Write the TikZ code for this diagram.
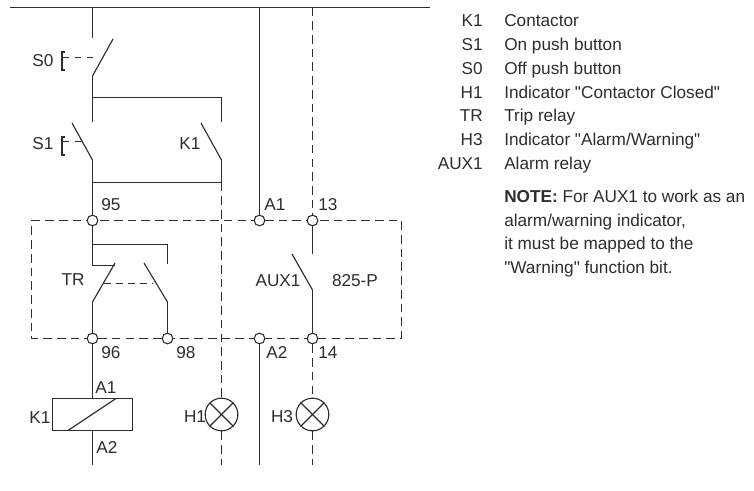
\documentclass[tikz,border=0pt]{standalone}
\usepackage{fontspec}
\setmainfont{Liberation Sans}
\definecolor{ink}{RGB}{45,45,45}
\tikzset{
	wire/.style={draw=ink,line width=1.05pt},
	blade/.style={draw=ink,line width=0.85pt},
	linkage/.style={draw=ink,line width=0.85pt,dash pattern=on 5pt off 4pt},
	dashwire/.style={draw=ink,line width=0.95pt,dash pattern=on 6.5pt off 3.8pt},
	terminal/.style={circle,draw=ink,fill=white,line width=0.8pt,minimum size=8pt,inner sep=0pt},
	lamp/.style={circle,draw=ink,line width=0.85pt,minimum size=24.5pt,inner sep=0pt},
	lbl/.style={text=ink,font=\fontsize{12.9pt}{15pt}\selectfont,inner sep=0pt},
}
\begin{document}
\begin{tikzpicture}[x=0.75pt,y=0.75pt,yscale=-1,xscale=1]
	\useasboundingbox (0,0) rectangle (754,491);

	%box of the relay
	\draw [dashwire] (31.5,220.5) -- (401.5,220.5) -- (401.5,338.5) -- (31.5,338.5) -- cycle;

	%terminals and lamps
	\node [terminal] (t95) at (92.5,220.5) {};
	\node [terminal] (ta1) at (259.5,220.5) {};
	\node [terminal] (t13) at (312.5,220.5) {};
	\node [terminal] (t96) at (92.5,338.5) {};
	\node [terminal] (t98) at (167.5,338.5) {};
	\node [terminal] (ta2) at (259.5,338.5) {};
	\node [terminal] (t14) at (312.5,338.5) {};
	\node [lamp] (lampone) at (221.5,414.5) {};
	\node [lamp] (lamptwo) at (312.5,414.5) {};
	\node [draw=ink,line width=1.05pt,minimum width=60pt,minimum height=24pt,inner sep=0pt] (coil) at (92.5,414.5) {};
	\draw [blade] (lampone.north west) -- (lampone.south east);
	\draw [blade] (lampone.north east) -- (lampone.south west);
	\draw [blade] (lamptwo.north west) -- (lamptwo.south east);
	\draw [blade] (lamptwo.north east) -- (lamptwo.south west);
	\draw [blade] (68,430.5) -- (116,398.5);

	%supply
	\draw [wire] (10,7.5) -- (430,7.5);
	\draw [wire] (92.5,7.5) -- (92.5,38);
	\draw [wire] (259.5,7.5) -- (ta1);
	\draw [dashwire] (312.5,7.5) -- (t13);
	\draw [wire] (ta2) -- (259.5,465);
	\draw [dashwire] (221.5,182.5) -- (lampone);
	\draw [dashwire] (lampone) -- (221.5,465);
	\draw [dashwire] (t14) -- (lamptwo);
	\draw [dashwire] (lamptwo) -- (312.5,465);

	%S0
	\draw [blade] (113,39) -- (92.5,76);
	\draw [wire] (92.5,76) -- (92.5,122);
	\draw [wire] (92.5,97.5) -- (221.5,97.5) -- (221.5,122);
	\draw [blade] (65,52) -- (62,52) -- (62,70) -- (65,70);
	\draw [linkage] (62.5,57.5) -- (98,57.5);

	%S1 and K1
	\draw [blade] (72,123) -- (92.5,160);
	\draw [blade] (201,123) -- (221.5,160);
	\draw [blade] (65,137) -- (62,137) -- (62,155) -- (65,155);
	\draw [linkage] (62.5,141.5) -- (83,141.5);
	\draw [wire] (92.5,160) -- (92.5,182.5) -- (221.5,182.5);
	\draw [wire] (221.5,160) -- (221.5,182.5);
	\draw [wire] (92.5,182.5) -- (t95);

	%TR
	\draw [wire] (t95) -- (92.5,265.5) -- (115,265.5);
	\draw [wire] (92.5,244.5) -- (167.5,244.5) -- (167.5,264);
	\draw [blade] (115,263) -- (92.5,302);
	\draw [blade] (144,263) -- (167.5,302);
	\draw [linkage] (104,283.5) -- (153,283.5);
	\draw [wire] (92.5,302) -- (t96);
	\draw [wire] (167.5,302) -- (t98);
	\draw [wire] (t96) -- (coil);
	\draw [wire] (coil) -- (92.5,465);

	%AUX1
	\draw [wire] (t13) -- (312.5,254);
	\draw [blade] (292,254) -- (312.5,290);
	\draw [wire] (312.5,290) -- (t14);

	\draw (43,60.5) node [lbl] (ls0) {S0};
	\draw (43,143.5) node [lbl] (ls1) {S1};
	\draw (190,143.5) node [lbl] (lk1) {K1};
	\draw (111,204.5) node [lbl] (l95) {95};
	\draw (275,204.5) node [lbl] (la1) {A1};
	\draw (328,204.5) node [lbl] (l13) {13};
	\draw (73,279.5) node [lbl] (ltr) {TR};
	\draw (278,280.5) node [lbl] (laux) {AUX1};
	\draw (355,280.5) node [lbl] (lmodel) {825-P};
	\draw (111,352.5) node [lbl] (l96) {96};
	\draw (186,352.5) node [lbl] (l98) {98};
	\draw (277,352.5) node [lbl] (la2) {A2};
	\draw (328,352.5) node [lbl] (l14) {14};
	\draw (106,387.5) node [lbl] (lca1) {A1};
	\draw (107,447.5) node [lbl] (lca2) {A2};
	\draw (40,417.5) node [lbl] (lck1) {K1};
	\draw (195,416.5) node [lbl] (lh1) {H1};
	\draw (282,416.5) node [lbl] (lh3) {H3};

	%legend
	\draw (483,26.5) node [lbl,anchor=base east] (kk1) {K1};
	\draw (483,50.5) node [lbl,anchor=base east] (ks1) {S1};
	\draw (483,74.5) node [lbl,anchor=base east] (ks0) {S0};
	\draw (483,98.5) node [lbl,anchor=base east] (kh1) {H1};
	\draw (483,122) node [lbl,anchor=base east] (ktr) {TR};
	\draw (483,146) node [lbl,anchor=base east] (kh3) {H3};
	\draw (483,170) node [lbl,anchor=base east] (kaux) {AUX1};
	\draw (504,26.5) node [lbl,anchor=base west] (dk1) {Contactor};
	\draw (504,50.5) node [lbl,anchor=base west] (ds1) {On push button};
	\draw (504,74.5) node [lbl,anchor=base west] (ds0) {Off push button};
	\draw (504,98.5) node [lbl,anchor=base west] (dh1) {Indicator \textquotedbl Contactor Closed\textquotedbl};
	\draw (504,122) node [lbl,anchor=base west] (dtr) {Trip relay};
	\draw (504,146) node [lbl,anchor=base west] (dh3) {Indicator \textquotedbl Alarm/Warning\textquotedbl};
	\draw (504,170) node [lbl,anchor=base west] (daux) {Alarm relay};
	\draw (504,203) node [lbl,anchor=base west] (n1) {\textbf{NOTE:} For AUX1 to work as an};
	\draw (504,226.5) node [lbl,anchor=base west] (n2) {alarm/warning indicator,};
	\draw (504,250) node [lbl,anchor=base west] (n3) {it must be mapped to the};
	\draw (504,273.5) node [lbl,anchor=base west] (n4) {\textquotedbl Warning\textquotedbl{} function bit.};
\end{tikzpicture}
\end{document}
